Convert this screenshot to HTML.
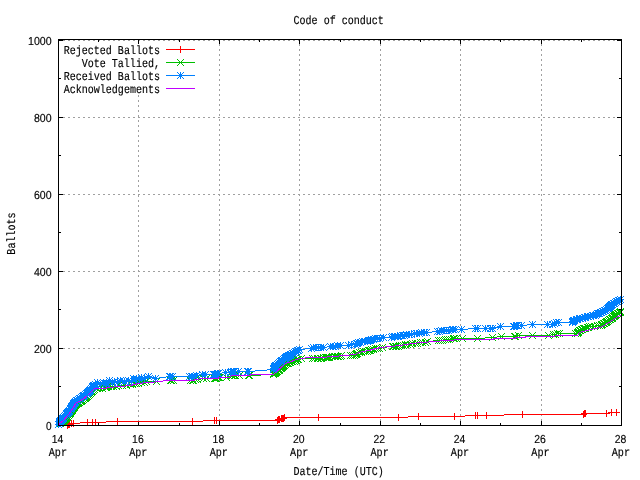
<!DOCTYPE html>
<html><head><meta charset="utf-8"><title>Code of conduct</title>
<style>html,body{margin:0;padding:0;background:#fff;overflow:hidden}body{width:640px;height:480px;position:relative}</style></head>
<body>
<svg width="640" height="480" viewBox="0 0 640 480" shape-rendering="crispEdges" style="position:absolute;left:0;top:0">
<rect width="640" height="480" fill="#fff"/>
<path fill="none" stroke="#a0a0a0" stroke-width="1" stroke-dasharray="2 3" d="M138.5 39V44M138.5 95V426M219.5 39V426M299.5 39V426M380.5 39V426M460.5 39V426M541.5 39V426M58 348.5H622M58 271.5H622M58 194.5H622M58 117.5H622M58 40.5H622"/>
<path fill="none" stroke="#000" stroke-width="1" d="M58.5 425v-4M58.5 40v4M98.5 425v-2M98.5 40v2M138.5 425v-4M138.5 40v4M179.5 425v-2M179.5 40v2M219.5 425v-4M219.5 40v4M259.5 425v-2M259.5 40v2M299.5 425v-4M299.5 40v4M340.5 425v-2M340.5 40v2M380.5 425v-4M380.5 40v4M420.5 425v-2M420.5 40v2M460.5 425v-4M460.5 40v4M500.5 425v-2M500.5 40v2M541.5 425v-4M541.5 40v4M581.5 425v-2M581.5 40v2M621.5 425v-4M621.5 40v4M59 425.5h4M621 425.5h-4M59 386.5h2M621 386.5h-2M59 348.5h4M621 348.5h-4M59 309.5h2M621 309.5h-2M59 271.5h4M621 271.5h-4M59 232.5h2M621 232.5h-2M59 194.5h4M621 194.5h-4M59 155.5h2M621 155.5h-2M59 117.5h4M621 117.5h-4M59 78.5h2M621 78.5h-2M59 40.5h4M621 40.5h-4"/>
<polyline fill="none" stroke="#ff0000" stroke-width="1" points="67.5,425.5 68.5,424.5 69.5,424.5 71.5,423.5 73.5,423.5 87.5,422.5 92.5,422.5 95.5,422.5 117.5,421.5 192.5,421.5 214.5,420.5 216.5,420.5 277.5,420.5 278.5,419.5 279.5,419.5 281.5,418.5 282.5,418.5 283.5,418.5 284.5,417.5 318.5,417.5 398.5,417.5 418.5,416.5 454.5,416.5 475.5,415.5 477.5,415.5 486.5,415.5 522.5,414.5 583.5,414.5 584.5,413.5 585.5,413.5 606.5,413.5 611.5,412.5 616.5,412.5"/>
<path fill="none" stroke="#ff0000" stroke-width="1" d="M64 425.5h7M67.5 422v7M65 424.5h7M68.5 421v7M66 424.5h7M69.5 421v7M68 423.5h7M71.5 420v7M70 423.5h7M73.5 420v7M84 422.5h7M87.5 419v7M89 422.5h7M92.5 419v7M92 422.5h7M95.5 419v7M114 421.5h7M117.5 418v7M189 421.5h7M192.5 418v7M211 420.5h7M214.5 417v7M213 420.5h7M216.5 417v7M274 420.5h7M277.5 417v7M275 419.5h7M278.5 416v7M276 419.5h7M279.5 416v7M278 418.5h7M281.5 415v7M279 418.5h7M282.5 415v7M280 418.5h7M283.5 415v7M281 417.5h7M284.5 414v7M315 417.5h7M318.5 414v7M395 417.5h7M398.5 414v7M415 416.5h7M418.5 413v7M451 416.5h7M454.5 413v7M472 415.5h7M475.5 412v7M474 415.5h7M477.5 412v7M483 415.5h7M486.5 412v7M519 414.5h7M522.5 411v7M580 414.5h7M583.5 411v7M581 413.5h7M584.5 410v7M582 413.5h7M585.5 410v7M603 413.5h7M606.5 410v7M608 412.5h7M611.5 409v7M613 412.5h7M616.5 409v7"/>
<polyline fill="none" stroke="#00c000" stroke-width="1" points="58.5,424.5 60.5,423.5 60.5,423.5 61.5,422.5 61.5,422.5 62.5,422.5 62.5,421.5 63.5,421.5 63.5,420.5 64.5,420.5 64.5,420.5 64.5,419.5 65.5,419.5 65.5,418.5 65.5,418.5 66.5,418.5 66.5,417.5 66.5,417.5 67.5,417.5 67.5,416.5 67.5,416.5 68.5,415.5 68.5,415.5 68.5,415.5 69.5,414.5 69.5,414.5 69.5,413.5 69.5,413.5 70.5,413.5 70.5,412.5 70.5,412.5 70.5,411.5 71.5,411.5 71.5,411.5 71.5,410.5 71.5,410.5 72.5,410.5 72.5,409.5 72.5,409.5 72.5,408.5 73.5,408.5 73.5,408.5 73.5,407.5 73.5,407.5 74.5,407.5 74.5,406.5 74.5,406.5 74.5,405.5 75.5,405.5 75.5,405.5 75.5,404.5 76.5,404.5 76.5,403.5 77.5,403.5 78.5,403.5 78.5,402.5 79.5,402.5 79.5,402.5 80.5,401.5 81.5,401.5 81.5,400.5 82.5,400.5 82.5,400.5 83.5,399.5 83.5,399.5 84.5,398.5 84.5,398.5 85.5,398.5 85.5,397.5 86.5,397.5 86.5,396.5 87.5,396.5 87.5,396.5 88.5,395.5 88.5,395.5 88.5,395.5 89.5,394.5 89.5,394.5 90.5,393.5 90.5,393.5 90.5,393.5 91.5,392.5 91.5,392.5 91.5,391.5 92.5,391.5 92.5,391.5 93.5,390.5 93.5,390.5 93.5,390.5 94.5,389.5 94.5,389.5 96.5,388.5 97.5,388.5 99.5,388.5 102.5,388.5 105.5,387.5 106.5,387.5 106.5,386.5 108.5,386.5 111.5,386.5 113.5,386.5 116.5,386.5 118.5,385.5 122.5,385.5 126.5,385.5 130.5,384.5 132.5,384.5 134.5,383.5 136.5,383.5 138.5,383.5 141.5,382.5 144.5,382.5 146.5,381.5 156.5,381.5 156.5,381.5 170.5,380.5 171.5,380.5 173.5,380.5 190.5,380.5 192.5,380.5 193.5,380.5 195.5,379.5 197.5,379.5 203.5,378.5 206.5,378.5 214.5,378.5 215.5,378.5 216.5,378.5 217.5,377.5 218.5,377.5 219.5,377.5 226.5,377.5 231.5,375.5 232.5,375.5 234.5,375.5 235.5,375.5 239.5,375.5 248.5,375.5 249.5,375.5 273.5,374.5 273.5,373.5 274.5,373.5 275.5,373.5 275.5,372.5 276.5,372.5 276.5,371.5 277.5,371.5 277.5,371.5 278.5,370.5 278.5,370.5 279.5,370.5 279.5,369.5 279.5,369.5 280.5,368.5 280.5,368.5 281.5,368.5 281.5,367.5 282.5,367.5 282.5,366.5 282.5,366.5 283.5,366.5 283.5,365.5 284.5,365.5 284.5,365.5 285.5,364.5 285.5,364.5 286.5,363.5 287.5,363.5 288.5,363.5 289.5,362.5 290.5,362.5 291.5,361.5 292.5,361.5 294.5,361.5 295.5,360.5 296.5,360.5 296.5,360.5 297.5,359.5 298.5,359.5 301.5,358.5 312.5,358.5 314.5,358.5 317.5,358.5 318.5,358.5 320.5,358.5 321.5,358.5 323.5,357.5 325.5,357.5 326.5,357.5 327.5,357.5 328.5,357.5 329.5,357.5 332.5,356.5 334.5,356.5 335.5,356.5 337.5,356.5 338.5,356.5 340.5,356.5 341.5,355.5 350.5,355.5 352.5,355.5 354.5,355.5 355.5,354.5 356.5,354.5 356.5,353.5 357.5,353.5 357.5,353.5 359.5,352.5 361.5,352.5 363.5,351.5 365.5,351.5 367.5,351.5 368.5,350.5 369.5,350.5 370.5,350.5 371.5,349.5 373.5,349.5 375.5,348.5 377.5,348.5 379.5,348.5 382.5,347.5 392.5,346.5 393.5,346.5 395.5,346.5 396.5,346.5 398.5,346.5 399.5,345.5 401.5,345.5 403.5,345.5 405.5,344.5 407.5,344.5 410.5,344.5 412.5,343.5 415.5,343.5 417.5,343.5 420.5,342.5 422.5,342.5 425.5,342.5 427.5,341.5 438.5,340.5 440.5,340.5 442.5,340.5 445.5,339.5 447.5,339.5 449.5,339.5 453.5,338.5 454.5,338.5 456.5,338.5 462.5,338.5 477.5,338.5 492.5,337.5 501.5,336.5 514.5,336.5 515.5,336.5 518.5,335.5 532.5,335.5 548.5,335.5 553.5,334.5 555.5,334.5 557.5,333.5 559.5,333.5 575.5,333.5 577.5,333.5 577.5,332.5 578.5,332.5 578.5,331.5 578.5,331.5 578.5,331.5 579.5,330.5 579.5,330.5 580.5,330.5 581.5,329.5 582.5,329.5 583.5,328.5 584.5,328.5 585.5,328.5 587.5,327.5 588.5,327.5 589.5,326.5 591.5,326.5 594.5,326.5 597.5,325.5 599.5,325.5 601.5,325.5 601.5,324.5 602.5,324.5 603.5,323.5 604.5,323.5 604.5,323.5 605.5,322.5 606.5,322.5 606.5,321.5 607.5,321.5 607.5,321.5 608.5,320.5 608.5,320.5 609.5,319.5 610.5,319.5 610.5,319.5 611.5,318.5 611.5,318.5 612.5,318.5 612.5,317.5 612.5,317.5 613.5,316.5 613.5,316.5 614.5,316.5 614.5,315.5 615.5,315.5 615.5,314.5 616.5,314.5 616.5,314.5 617.5,313.5 618.5,313.5 618.5,313.5 619.5,312.5 620.5,312.5 620.5,311.5"/>
<path fill="none" stroke="#00c000" stroke-width="1" stroke-linecap="butt" d="M55 421l7 7M55 428l7 -7M57 420l7 7M57 427l7 -7M57 420l7 7M57 427l7 -7M58 419l7 7M58 426l7 -7M58 419l7 7M58 426l7 -7M59 419l7 7M59 426l7 -7M59 418l7 7M59 425l7 -7M60 418l7 7M60 425l7 -7M60 417l7 7M60 424l7 -7M61 417l7 7M61 424l7 -7M61 417l7 7M61 424l7 -7M61 416l7 7M61 423l7 -7M62 416l7 7M62 423l7 -7M62 415l7 7M62 422l7 -7M62 415l7 7M62 422l7 -7M63 415l7 7M63 422l7 -7M63 414l7 7M63 421l7 -7M63 414l7 7M63 421l7 -7M64 414l7 7M64 421l7 -7M64 413l7 7M64 420l7 -7M64 413l7 7M64 420l7 -7M65 412l7 7M65 419l7 -7M65 412l7 7M65 419l7 -7M65 412l7 7M65 419l7 -7M66 411l7 7M66 418l7 -7M66 411l7 7M66 418l7 -7M66 410l7 7M66 417l7 -7M66 410l7 7M66 417l7 -7M67 410l7 7M67 417l7 -7M67 409l7 7M67 416l7 -7M67 409l7 7M67 416l7 -7M67 408l7 7M67 415l7 -7M68 408l7 7M68 415l7 -7M68 408l7 7M68 415l7 -7M68 407l7 7M68 414l7 -7M68 407l7 7M68 414l7 -7M69 407l7 7M69 414l7 -7M69 406l7 7M69 413l7 -7M69 406l7 7M69 413l7 -7M69 405l7 7M69 412l7 -7M70 405l7 7M70 412l7 -7M70 405l7 7M70 412l7 -7M70 404l7 7M70 411l7 -7M70 404l7 7M70 411l7 -7M71 404l7 7M71 411l7 -7M71 403l7 7M71 410l7 -7M71 403l7 7M71 410l7 -7M71 402l7 7M71 409l7 -7M72 402l7 7M72 409l7 -7M72 402l7 7M72 409l7 -7M72 401l7 7M72 408l7 -7M73 401l7 7M73 408l7 -7M73 400l7 7M73 407l7 -7M74 400l7 7M74 407l7 -7M75 400l7 7M75 407l7 -7M75 399l7 7M75 406l7 -7M76 399l7 7M76 406l7 -7M76 399l7 7M76 406l7 -7M77 398l7 7M77 405l7 -7M78 398l7 7M78 405l7 -7M78 397l7 7M78 404l7 -7M79 397l7 7M79 404l7 -7M79 397l7 7M79 404l7 -7M80 396l7 7M80 403l7 -7M80 396l7 7M80 403l7 -7M81 395l7 7M81 402l7 -7M81 395l7 7M81 402l7 -7M82 395l7 7M82 402l7 -7M82 394l7 7M82 401l7 -7M83 394l7 7M83 401l7 -7M83 393l7 7M83 400l7 -7M84 393l7 7M84 400l7 -7M84 393l7 7M84 400l7 -7M85 392l7 7M85 399l7 -7M85 392l7 7M85 399l7 -7M85 392l7 7M85 399l7 -7M86 391l7 7M86 398l7 -7M86 391l7 7M86 398l7 -7M87 390l7 7M87 397l7 -7M87 390l7 7M87 397l7 -7M87 390l7 7M87 397l7 -7M88 389l7 7M88 396l7 -7M88 389l7 7M88 396l7 -7M88 388l7 7M88 395l7 -7M89 388l7 7M89 395l7 -7M89 388l7 7M89 395l7 -7M90 387l7 7M90 394l7 -7M90 387l7 7M90 394l7 -7M90 387l7 7M90 394l7 -7M91 386l7 7M91 393l7 -7M91 386l7 7M91 393l7 -7M93 385l7 7M93 392l7 -7M94 385l7 7M94 392l7 -7M96 385l7 7M96 392l7 -7M99 385l7 7M99 392l7 -7M102 384l7 7M102 391l7 -7M103 384l7 7M103 391l7 -7M103 383l7 7M103 390l7 -7M105 383l7 7M105 390l7 -7M108 383l7 7M108 390l7 -7M110 383l7 7M110 390l7 -7M113 383l7 7M113 390l7 -7M115 382l7 7M115 389l7 -7M119 382l7 7M119 389l7 -7M123 382l7 7M123 389l7 -7M127 381l7 7M127 388l7 -7M129 381l7 7M129 388l7 -7M131 380l7 7M131 387l7 -7M133 380l7 7M133 387l7 -7M135 380l7 7M135 387l7 -7M138 379l7 7M138 386l7 -7M141 379l7 7M141 386l7 -7M143 378l7 7M143 385l7 -7M153 378l7 7M153 385l7 -7M153 378l7 7M153 385l7 -7M167 377l7 7M167 384l7 -7M168 377l7 7M168 384l7 -7M170 377l7 7M170 384l7 -7M187 377l7 7M187 384l7 -7M189 377l7 7M189 384l7 -7M190 377l7 7M190 384l7 -7M192 376l7 7M192 383l7 -7M194 376l7 7M194 383l7 -7M200 375l7 7M200 382l7 -7M203 375l7 7M203 382l7 -7M211 375l7 7M211 382l7 -7M212 375l7 7M212 382l7 -7M213 375l7 7M213 382l7 -7M214 374l7 7M214 381l7 -7M215 374l7 7M215 381l7 -7M216 374l7 7M216 381l7 -7M223 374l7 7M223 381l7 -7M228 372l7 7M228 379l7 -7M229 372l7 7M229 379l7 -7M231 372l7 7M231 379l7 -7M232 372l7 7M232 379l7 -7M236 372l7 7M236 379l7 -7M245 372l7 7M245 379l7 -7M246 372l7 7M246 379l7 -7M270 371l7 7M270 378l7 -7M270 370l7 7M270 377l7 -7M271 370l7 7M271 377l7 -7M272 370l7 7M272 377l7 -7M272 369l7 7M272 376l7 -7M273 369l7 7M273 376l7 -7M273 368l7 7M273 375l7 -7M274 368l7 7M274 375l7 -7M274 368l7 7M274 375l7 -7M275 367l7 7M275 374l7 -7M275 367l7 7M275 374l7 -7M276 367l7 7M276 374l7 -7M276 366l7 7M276 373l7 -7M276 366l7 7M276 373l7 -7M277 365l7 7M277 372l7 -7M277 365l7 7M277 372l7 -7M278 365l7 7M278 372l7 -7M278 364l7 7M278 371l7 -7M279 364l7 7M279 371l7 -7M279 363l7 7M279 370l7 -7M279 363l7 7M279 370l7 -7M280 363l7 7M280 370l7 -7M280 362l7 7M280 369l7 -7M281 362l7 7M281 369l7 -7M281 362l7 7M281 369l7 -7M282 361l7 7M282 368l7 -7M282 361l7 7M282 368l7 -7M283 360l7 7M283 367l7 -7M284 360l7 7M284 367l7 -7M285 360l7 7M285 367l7 -7M286 359l7 7M286 366l7 -7M287 359l7 7M287 366l7 -7M288 358l7 7M288 365l7 -7M289 358l7 7M289 365l7 -7M291 358l7 7M291 365l7 -7M292 357l7 7M292 364l7 -7M293 357l7 7M293 364l7 -7M293 357l7 7M293 364l7 -7M294 356l7 7M294 363l7 -7M295 356l7 7M295 363l7 -7M298 355l7 7M298 362l7 -7M309 355l7 7M309 362l7 -7M311 355l7 7M311 362l7 -7M314 355l7 7M314 362l7 -7M315 355l7 7M315 362l7 -7M317 355l7 7M317 362l7 -7M318 355l7 7M318 362l7 -7M320 354l7 7M320 361l7 -7M322 354l7 7M322 361l7 -7M323 354l7 7M323 361l7 -7M324 354l7 7M324 361l7 -7M325 354l7 7M325 361l7 -7M326 354l7 7M326 361l7 -7M329 353l7 7M329 360l7 -7M331 353l7 7M331 360l7 -7M332 353l7 7M332 360l7 -7M334 353l7 7M334 360l7 -7M335 353l7 7M335 360l7 -7M337 353l7 7M337 360l7 -7M338 352l7 7M338 359l7 -7M347 352l7 7M347 359l7 -7M349 352l7 7M349 359l7 -7M351 352l7 7M351 359l7 -7M352 351l7 7M352 358l7 -7M353 351l7 7M353 358l7 -7M353 350l7 7M353 357l7 -7M354 350l7 7M354 357l7 -7M354 350l7 7M354 357l7 -7M356 349l7 7M356 356l7 -7M358 349l7 7M358 356l7 -7M360 348l7 7M360 355l7 -7M362 348l7 7M362 355l7 -7M364 348l7 7M364 355l7 -7M365 347l7 7M365 354l7 -7M366 347l7 7M366 354l7 -7M367 347l7 7M367 354l7 -7M368 346l7 7M368 353l7 -7M370 346l7 7M370 353l7 -7M372 345l7 7M372 352l7 -7M374 345l7 7M374 352l7 -7M376 345l7 7M376 352l7 -7M379 344l7 7M379 351l7 -7M389 343l7 7M389 350l7 -7M390 343l7 7M390 350l7 -7M392 343l7 7M392 350l7 -7M393 343l7 7M393 350l7 -7M395 343l7 7M395 350l7 -7M396 342l7 7M396 349l7 -7M398 342l7 7M398 349l7 -7M400 342l7 7M400 349l7 -7M402 341l7 7M402 348l7 -7M404 341l7 7M404 348l7 -7M407 341l7 7M407 348l7 -7M409 340l7 7M409 347l7 -7M412 340l7 7M412 347l7 -7M414 340l7 7M414 347l7 -7M417 339l7 7M417 346l7 -7M419 339l7 7M419 346l7 -7M422 339l7 7M422 346l7 -7M424 338l7 7M424 345l7 -7M435 337l7 7M435 344l7 -7M437 337l7 7M437 344l7 -7M439 337l7 7M439 344l7 -7M442 336l7 7M442 343l7 -7M444 336l7 7M444 343l7 -7M446 336l7 7M446 343l7 -7M450 335l7 7M450 342l7 -7M451 335l7 7M451 342l7 -7M453 335l7 7M453 342l7 -7M459 335l7 7M459 342l7 -7M474 335l7 7M474 342l7 -7M489 334l7 7M489 341l7 -7M498 333l7 7M498 340l7 -7M511 333l7 7M511 340l7 -7M512 333l7 7M512 340l7 -7M515 332l7 7M515 339l7 -7M529 332l7 7M529 339l7 -7M545 332l7 7M545 339l7 -7M550 331l7 7M550 338l7 -7M552 331l7 7M552 338l7 -7M554 330l7 7M554 337l7 -7M556 330l7 7M556 337l7 -7M572 330l7 7M572 337l7 -7M574 330l7 7M574 337l7 -7M574 329l7 7M574 336l7 -7M575 329l7 7M575 336l7 -7M575 328l7 7M575 335l7 -7M575 328l7 7M575 335l7 -7M575 328l7 7M575 335l7 -7M576 327l7 7M576 334l7 -7M576 327l7 7M576 334l7 -7M577 327l7 7M577 334l7 -7M578 326l7 7M578 333l7 -7M579 326l7 7M579 333l7 -7M580 325l7 7M580 332l7 -7M581 325l7 7M581 332l7 -7M582 325l7 7M582 332l7 -7M584 324l7 7M584 331l7 -7M585 324l7 7M585 331l7 -7M586 323l7 7M586 330l7 -7M588 323l7 7M588 330l7 -7M591 323l7 7M591 330l7 -7M594 322l7 7M594 329l7 -7M596 322l7 7M596 329l7 -7M598 322l7 7M598 329l7 -7M598 321l7 7M598 328l7 -7M599 321l7 7M599 328l7 -7M600 320l7 7M600 327l7 -7M601 320l7 7M601 327l7 -7M601 320l7 7M601 327l7 -7M602 319l7 7M602 326l7 -7M603 319l7 7M603 326l7 -7M603 318l7 7M603 325l7 -7M604 318l7 7M604 325l7 -7M604 318l7 7M604 325l7 -7M605 317l7 7M605 324l7 -7M605 317l7 7M605 324l7 -7M606 316l7 7M606 323l7 -7M607 316l7 7M607 323l7 -7M607 316l7 7M607 323l7 -7M608 315l7 7M608 322l7 -7M608 315l7 7M608 322l7 -7M609 315l7 7M609 322l7 -7M609 314l7 7M609 321l7 -7M609 314l7 7M609 321l7 -7M610 313l7 7M610 320l7 -7M610 313l7 7M610 320l7 -7M611 313l7 7M611 320l7 -7M611 312l7 7M611 319l7 -7M612 312l7 7M612 319l7 -7M612 311l7 7M612 318l7 -7M613 311l7 7M613 318l7 -7M613 311l7 7M613 318l7 -7M614 310l7 7M614 317l7 -7M615 310l7 7M615 317l7 -7M615 310l7 7M615 317l7 -7M616 309l7 7M616 316l7 -7M617 309l7 7M617 316l7 -7M617 308l7 7M617 315l7 -7"/>
<polyline fill="none" stroke="#0080ff" stroke-width="1" points="58.5,424.5 59.5,423.5 59.5,423.5 59.5,422.5 59.5,422.5 59.5,421.5 60.5,421.5 60.5,421.5 60.5,420.5 60.5,420.5 61.5,420.5 61.5,419.5 62.5,419.5 62.5,418.5 62.5,418.5 63.5,418.5 63.5,417.5 63.5,417.5 64.5,416.5 64.5,416.5 64.5,416.5 65.5,415.5 65.5,415.5 65.5,415.5 66.5,414.5 66.5,414.5 66.5,413.5 67.5,413.5 67.5,413.5 67.5,412.5 68.5,412.5 68.5,412.5 68.5,411.5 69.5,411.5 69.5,410.5 69.5,410.5 69.5,410.5 70.5,409.5 70.5,409.5 70.5,408.5 70.5,408.5 71.5,408.5 71.5,407.5 71.5,407.5 71.5,406.5 72.5,406.5 72.5,406.5 72.5,405.5 72.5,405.5 73.5,405.5 73.5,404.5 73.5,404.5 73.5,403.5 74.5,403.5 74.5,403.5 74.5,402.5 74.5,402.5 75.5,402.5 75.5,401.5 75.5,401.5 76.5,400.5 76.5,400.5 77.5,400.5 78.5,399.5 78.5,399.5 79.5,398.5 79.5,398.5 80.5,398.5 81.5,397.5 81.5,397.5 82.5,396.5 82.5,396.5 83.5,396.5 83.5,395.5 84.5,395.5 84.5,395.5 85.5,394.5 85.5,394.5 86.5,393.5 86.5,393.5 87.5,393.5 87.5,392.5 88.5,392.5 88.5,391.5 88.5,391.5 89.5,391.5 89.5,390.5 90.5,390.5 90.5,390.5 90.5,389.5 90.5,389.5 91.5,388.5 91.5,388.5 91.5,388.5 92.5,387.5 92.5,387.5 92.5,386.5 93.5,386.5 93.5,386.5 93.5,385.5 93.5,385.5 94.5,385.5 95.5,384.5 97.5,382.5 100.5,384.5 103.5,382.5 105.5,383.5 106.5,382.5 106.5,383.5 109.5,380.5 112.5,382.5 114.5,381.5 117.5,382.5 120.5,380.5 124.5,381.5 128.5,380.5 131.5,381.5 133.5,378.5 135.5,379.5 136.5,378.5 139.5,379.5 141.5,377.5 144.5,378.5 148.5,376.5 155.5,378.5 155.5,378.5 169.5,376.5 170.5,376.5 172.5,376.5 189.5,376.5 191.5,376.5 192.5,376.5 194.5,376.5 196.5,375.5 202.5,374.5 205.5,374.5 213.5,374.5 214.5,374.5 215.5,374.5 216.5,374.5 217.5,373.5 218.5,373.5 225.5,372.5 230.5,372.5 231.5,371.5 233.5,371.5 234.5,371.5 238.5,371.5 247.5,371.5 248.5,371.5 273.5,369.5 273.5,368.5 273.5,368.5 274.5,368.5 274.5,367.5 274.5,367.5 274.5,366.5 275.5,366.5 275.5,366.5 275.5,365.5 276.5,365.5 276.5,365.5 277.5,364.5 277.5,364.5 278.5,363.5 278.5,363.5 278.5,363.5 279.5,362.5 279.5,362.5 280.5,361.5 280.5,361.5 281.5,361.5 281.5,360.5 282.5,360.5 282.5,360.5 283.5,359.5 283.5,359.5 284.5,358.5 284.5,358.5 285.5,358.5 285.5,357.5 286.5,357.5 286.5,356.5 287.5,356.5 288.5,356.5 288.5,355.5 289.5,355.5 290.5,355.5 290.5,354.5 291.5,354.5 292.5,353.5 292.5,353.5 293.5,353.5 294.5,352.5 294.5,352.5 295.5,351.5 296.5,351.5 296.5,351.5 297.5,350.5 298.5,350.5 298.5,350.5 299.5,349.5 311.5,348.5 313.5,347.5 316.5,347.5 318.5,347.5 320.5,347.5 323.5,347.5 330.5,346.5 333.5,346.5 335.5,346.5 337.5,345.5 340.5,345.5 348.5,345.5 351.5,344.5 355.5,344.5 355.5,344.5 356.5,343.5 356.5,343.5 357.5,343.5 358.5,342.5 360.5,342.5 362.5,341.5 364.5,341.5 367.5,341.5 368.5,340.5 369.5,340.5 370.5,340.5 371.5,339.5 373.5,339.5 375.5,338.5 377.5,338.5 379.5,338.5 383.5,337.5 391.5,337.5 392.5,336.5 394.5,336.5 395.5,336.5 397.5,336.5 398.5,336.5 400.5,335.5 402.5,335.5 404.5,335.5 406.5,334.5 409.5,334.5 411.5,334.5 414.5,333.5 416.5,333.5 419.5,333.5 421.5,332.5 424.5,332.5 426.5,332.5 437.5,331.5 439.5,331.5 441.5,330.5 444.5,330.5 446.5,330.5 448.5,330.5 452.5,329.5 453.5,329.5 455.5,329.5 461.5,329.5 475.5,328.5 477.5,328.5 485.5,328.5 490.5,328.5 492.5,328.5 500.5,326.5 513.5,326.5 514.5,326.5 516.5,325.5 517.5,325.5 521.5,325.5 532.5,324.5 547.5,324.5 552.5,324.5 554.5,323.5 556.5,322.5 558.5,322.5 572.5,322.5 572.5,322.5 572.5,321.5 573.5,321.5 573.5,321.5 573.5,320.5 574.5,320.5 574.5,320.5 576.5,319.5 577.5,319.5 579.5,318.5 580.5,318.5 582.5,318.5 584.5,317.5 585.5,317.5 587.5,316.5 588.5,316.5 590.5,316.5 592.5,315.5 593.5,315.5 595.5,315.5 596.5,314.5 596.5,314.5 597.5,313.5 598.5,313.5 599.5,313.5 600.5,312.5 601.5,312.5 602.5,311.5 602.5,311.5 603.5,311.5 604.5,310.5 605.5,310.5 606.5,309.5 606.5,309.5 606.5,309.5 607.5,308.5 607.5,308.5 608.5,308.5 608.5,307.5 609.5,307.5 609.5,306.5 609.5,306.5 610.5,306.5 610.5,305.5 611.5,305.5 611.5,304.5 612.5,304.5 612.5,304.5 613.5,303.5 613.5,303.5 614.5,303.5 615.5,302.5 615.5,302.5 616.5,301.5 616.5,301.5 617.5,301.5 618.5,300.5 619.5,300.5 620.5,299.5 620.5,299.5"/>
<path fill="none" stroke="#0080ff" stroke-width="1" d="M55 424.5h7M58.5 421v7M56 423.5h7M59.5 420v7M56 423.5h7M59.5 420v7M56 422.5h7M59.5 419v7M56 422.5h7M59.5 419v7M56 421.5h7M59.5 418v7M57 421.5h7M60.5 418v7M57 421.5h7M60.5 418v7M57 420.5h7M60.5 417v7M57 420.5h7M60.5 417v7M58 420.5h7M61.5 417v7M58 419.5h7M61.5 416v7M59 419.5h7M62.5 416v7M59 418.5h7M62.5 415v7M59 418.5h7M62.5 415v7M60 418.5h7M63.5 415v7M60 417.5h7M63.5 414v7M60 417.5h7M63.5 414v7M61 416.5h7M64.5 413v7M61 416.5h7M64.5 413v7M61 416.5h7M64.5 413v7M62 415.5h7M65.5 412v7M62 415.5h7M65.5 412v7M62 415.5h7M65.5 412v7M63 414.5h7M66.5 411v7M63 414.5h7M66.5 411v7M63 413.5h7M66.5 410v7M64 413.5h7M67.5 410v7M64 413.5h7M67.5 410v7M64 412.5h7M67.5 409v7M65 412.5h7M68.5 409v7M65 412.5h7M68.5 409v7M65 411.5h7M68.5 408v7M66 411.5h7M69.5 408v7M66 410.5h7M69.5 407v7M66 410.5h7M69.5 407v7M66 410.5h7M69.5 407v7M67 409.5h7M70.5 406v7M67 409.5h7M70.5 406v7M67 408.5h7M70.5 405v7M67 408.5h7M70.5 405v7M68 408.5h7M71.5 405v7M68 407.5h7M71.5 404v7M68 407.5h7M71.5 404v7M68 406.5h7M71.5 403v7M69 406.5h7M72.5 403v7M69 406.5h7M72.5 403v7M69 405.5h7M72.5 402v7M69 405.5h7M72.5 402v7M70 405.5h7M73.5 402v7M70 404.5h7M73.5 401v7M70 404.5h7M73.5 401v7M70 403.5h7M73.5 400v7M71 403.5h7M74.5 400v7M71 403.5h7M74.5 400v7M71 402.5h7M74.5 399v7M71 402.5h7M74.5 399v7M72 402.5h7M75.5 399v7M72 401.5h7M75.5 398v7M72 401.5h7M75.5 398v7M73 400.5h7M76.5 397v7M73 400.5h7M76.5 397v7M74 400.5h7M77.5 397v7M75 399.5h7M78.5 396v7M75 399.5h7M78.5 396v7M76 398.5h7M79.5 395v7M76 398.5h7M79.5 395v7M77 398.5h7M80.5 395v7M78 397.5h7M81.5 394v7M78 397.5h7M81.5 394v7M79 396.5h7M82.5 393v7M79 396.5h7M82.5 393v7M80 396.5h7M83.5 393v7M80 395.5h7M83.5 392v7M81 395.5h7M84.5 392v7M81 395.5h7M84.5 392v7M82 394.5h7M85.5 391v7M82 394.5h7M85.5 391v7M83 393.5h7M86.5 390v7M83 393.5h7M86.5 390v7M84 393.5h7M87.5 390v7M84 392.5h7M87.5 389v7M85 392.5h7M88.5 389v7M85 391.5h7M88.5 388v7M85 391.5h7M88.5 388v7M86 391.5h7M89.5 388v7M86 390.5h7M89.5 387v7M87 390.5h7M90.5 387v7M87 390.5h7M90.5 387v7M87 389.5h7M90.5 386v7M87 389.5h7M90.5 386v7M88 388.5h7M91.5 385v7M88 388.5h7M91.5 385v7M88 388.5h7M91.5 385v7M89 387.5h7M92.5 384v7M89 387.5h7M92.5 384v7M89 386.5h7M92.5 383v7M90 386.5h7M93.5 383v7M90 386.5h7M93.5 383v7M90 385.5h7M93.5 382v7M90 385.5h7M93.5 382v7M91 385.5h7M94.5 382v7M92 384.5h7M95.5 381v7M94 382.5h7M97.5 379v7M97 384.5h7M100.5 381v7M100 382.5h7M103.5 379v7M102 383.5h7M105.5 380v7M103 382.5h7M106.5 379v7M103 383.5h7M106.5 380v7M106 380.5h7M109.5 377v7M109 382.5h7M112.5 379v7M111 381.5h7M114.5 378v7M114 382.5h7M117.5 379v7M117 380.5h7M120.5 377v7M121 381.5h7M124.5 378v7M125 380.5h7M128.5 377v7M128 381.5h7M131.5 378v7M130 378.5h7M133.5 375v7M132 379.5h7M135.5 376v7M133 378.5h7M136.5 375v7M136 379.5h7M139.5 376v7M138 377.5h7M141.5 374v7M141 378.5h7M144.5 375v7M145 376.5h7M148.5 373v7M152 378.5h7M155.5 375v7M152 378.5h7M155.5 375v7M166 376.5h7M169.5 373v7M167 376.5h7M170.5 373v7M169 376.5h7M172.5 373v7M186 376.5h7M189.5 373v7M188 376.5h7M191.5 373v7M189 376.5h7M192.5 373v7M191 376.5h7M194.5 373v7M193 375.5h7M196.5 372v7M199 374.5h7M202.5 371v7M202 374.5h7M205.5 371v7M210 374.5h7M213.5 371v7M211 374.5h7M214.5 371v7M212 374.5h7M215.5 371v7M213 374.5h7M216.5 371v7M214 373.5h7M217.5 370v7M215 373.5h7M218.5 370v7M222 372.5h7M225.5 369v7M227 372.5h7M230.5 369v7M228 371.5h7M231.5 368v7M230 371.5h7M233.5 368v7M231 371.5h7M234.5 368v7M235 371.5h7M238.5 368v7M244 371.5h7M247.5 368v7M245 371.5h7M248.5 368v7M270 369.5h7M273.5 366v7M270 368.5h7M273.5 365v7M270 368.5h7M273.5 365v7M271 368.5h7M274.5 365v7M271 367.5h7M274.5 364v7M271 367.5h7M274.5 364v7M271 366.5h7M274.5 363v7M272 366.5h7M275.5 363v7M272 366.5h7M275.5 363v7M272 365.5h7M275.5 362v7M273 365.5h7M276.5 362v7M273 365.5h7M276.5 362v7M274 364.5h7M277.5 361v7M274 364.5h7M277.5 361v7M275 363.5h7M278.5 360v7M275 363.5h7M278.5 360v7M275 363.5h7M278.5 360v7M276 362.5h7M279.5 359v7M276 362.5h7M279.5 359v7M277 361.5h7M280.5 358v7M277 361.5h7M280.5 358v7M278 361.5h7M281.5 358v7M278 360.5h7M281.5 357v7M279 360.5h7M282.5 357v7M279 360.5h7M282.5 357v7M280 359.5h7M283.5 356v7M280 359.5h7M283.5 356v7M281 358.5h7M284.5 355v7M281 358.5h7M284.5 355v7M282 358.5h7M285.5 355v7M282 357.5h7M285.5 354v7M283 357.5h7M286.5 354v7M283 356.5h7M286.5 353v7M284 356.5h7M287.5 353v7M285 356.5h7M288.5 353v7M285 355.5h7M288.5 352v7M286 355.5h7M289.5 352v7M287 355.5h7M290.5 352v7M287 354.5h7M290.5 351v7M288 354.5h7M291.5 351v7M289 353.5h7M292.5 350v7M289 353.5h7M292.5 350v7M290 353.5h7M293.5 350v7M291 352.5h7M294.5 349v7M291 352.5h7M294.5 349v7M292 351.5h7M295.5 348v7M293 351.5h7M296.5 348v7M293 351.5h7M296.5 348v7M294 350.5h7M297.5 347v7M295 350.5h7M298.5 347v7M295 350.5h7M298.5 347v7M296 349.5h7M299.5 346v7M308 348.5h7M311.5 345v7M310 347.5h7M313.5 344v7M313 347.5h7M316.5 344v7M315 347.5h7M318.5 344v7M317 347.5h7M320.5 344v7M320 347.5h7M323.5 344v7M327 346.5h7M330.5 343v7M330 346.5h7M333.5 343v7M332 346.5h7M335.5 343v7M334 345.5h7M337.5 342v7M337 345.5h7M340.5 342v7M345 345.5h7M348.5 342v7M348 344.5h7M351.5 341v7M352 344.5h7M355.5 341v7M352 344.5h7M355.5 341v7M353 343.5h7M356.5 340v7M353 343.5h7M356.5 340v7M354 343.5h7M357.5 340v7M355 342.5h7M358.5 339v7M357 342.5h7M360.5 339v7M359 341.5h7M362.5 338v7M361 341.5h7M364.5 338v7M364 341.5h7M367.5 338v7M365 340.5h7M368.5 337v7M366 340.5h7M369.5 337v7M367 340.5h7M370.5 337v7M368 339.5h7M371.5 336v7M370 339.5h7M373.5 336v7M372 338.5h7M375.5 335v7M374 338.5h7M377.5 335v7M376 338.5h7M379.5 335v7M380 337.5h7M383.5 334v7M388 337.5h7M391.5 334v7M389 336.5h7M392.5 333v7M391 336.5h7M394.5 333v7M392 336.5h7M395.5 333v7M394 336.5h7M397.5 333v7M395 336.5h7M398.5 333v7M397 335.5h7M400.5 332v7M399 335.5h7M402.5 332v7M401 335.5h7M404.5 332v7M403 334.5h7M406.5 331v7M406 334.5h7M409.5 331v7M408 334.5h7M411.5 331v7M411 333.5h7M414.5 330v7M413 333.5h7M416.5 330v7M416 333.5h7M419.5 330v7M418 332.5h7M421.5 329v7M421 332.5h7M424.5 329v7M423 332.5h7M426.5 329v7M434 331.5h7M437.5 328v7M436 331.5h7M439.5 328v7M438 330.5h7M441.5 327v7M441 330.5h7M444.5 327v7M443 330.5h7M446.5 327v7M445 330.5h7M448.5 327v7M449 329.5h7M452.5 326v7M450 329.5h7M453.5 326v7M452 329.5h7M455.5 326v7M458 329.5h7M461.5 326v7M472 328.5h7M475.5 325v7M474 328.5h7M477.5 325v7M482 328.5h7M485.5 325v7M487 328.5h7M490.5 325v7M489 328.5h7M492.5 325v7M497 326.5h7M500.5 323v7M510 326.5h7M513.5 323v7M511 326.5h7M514.5 323v7M513 325.5h7M516.5 322v7M514 325.5h7M517.5 322v7M518 325.5h7M521.5 322v7M529 324.5h7M532.5 321v7M544 324.5h7M547.5 321v7M549 324.5h7M552.5 321v7M551 323.5h7M554.5 320v7M553 322.5h7M556.5 319v7M555 322.5h7M558.5 319v7M569 322.5h7M572.5 319v7M569 322.5h7M572.5 319v7M569 321.5h7M572.5 318v7M570 321.5h7M573.5 318v7M570 321.5h7M573.5 318v7M570 320.5h7M573.5 317v7M571 320.5h7M574.5 317v7M571 320.5h7M574.5 317v7M573 319.5h7M576.5 316v7M574 319.5h7M577.5 316v7M576 318.5h7M579.5 315v7M577 318.5h7M580.5 315v7M579 318.5h7M582.5 315v7M581 317.5h7M584.5 314v7M582 317.5h7M585.5 314v7M584 316.5h7M587.5 313v7M585 316.5h7M588.5 313v7M587 316.5h7M590.5 313v7M589 315.5h7M592.5 312v7M590 315.5h7M593.5 312v7M592 315.5h7M595.5 312v7M593 314.5h7M596.5 311v7M593 314.5h7M596.5 311v7M594 313.5h7M597.5 310v7M595 313.5h7M598.5 310v7M596 313.5h7M599.5 310v7M597 312.5h7M600.5 309v7M598 312.5h7M601.5 309v7M599 311.5h7M602.5 308v7M599 311.5h7M602.5 308v7M600 311.5h7M603.5 308v7M601 310.5h7M604.5 307v7M602 310.5h7M605.5 307v7M603 309.5h7M606.5 306v7M603 309.5h7M606.5 306v7M603 309.5h7M606.5 306v7M604 308.5h7M607.5 305v7M604 308.5h7M607.5 305v7M605 308.5h7M608.5 305v7M605 307.5h7M608.5 304v7M606 307.5h7M609.5 304v7M606 306.5h7M609.5 303v7M606 306.5h7M609.5 303v7M607 306.5h7M610.5 303v7M607 305.5h7M610.5 302v7M608 305.5h7M611.5 302v7M608 304.5h7M611.5 301v7M609 304.5h7M612.5 301v7M609 304.5h7M612.5 301v7M610 303.5h7M613.5 300v7M610 303.5h7M613.5 300v7M611 303.5h7M614.5 300v7M612 302.5h7M615.5 299v7M612 302.5h7M615.5 299v7M613 301.5h7M616.5 298v7M613 301.5h7M616.5 298v7M614 301.5h7M617.5 298v7M615 300.5h7M618.5 297v7M616 300.5h7M619.5 297v7M617 299.5h7M620.5 296v7M617 299.5h7M620.5 296v7"/>
<path fill="none" stroke="#0080ff" stroke-width="1" stroke-linecap="butt" d="M55 421l7 7M55 428l7 -7M56 420l7 7M56 427l7 -7M56 420l7 7M56 427l7 -7M56 419l7 7M56 426l7 -7M56 419l7 7M56 426l7 -7M56 418l7 7M56 425l7 -7M57 418l7 7M57 425l7 -7M57 418l7 7M57 425l7 -7M57 417l7 7M57 424l7 -7M57 417l7 7M57 424l7 -7M58 417l7 7M58 424l7 -7M58 416l7 7M58 423l7 -7M59 416l7 7M59 423l7 -7M59 415l7 7M59 422l7 -7M59 415l7 7M59 422l7 -7M60 415l7 7M60 422l7 -7M60 414l7 7M60 421l7 -7M60 414l7 7M60 421l7 -7M61 413l7 7M61 420l7 -7M61 413l7 7M61 420l7 -7M61 413l7 7M61 420l7 -7M62 412l7 7M62 419l7 -7M62 412l7 7M62 419l7 -7M62 412l7 7M62 419l7 -7M63 411l7 7M63 418l7 -7M63 411l7 7M63 418l7 -7M63 410l7 7M63 417l7 -7M64 410l7 7M64 417l7 -7M64 410l7 7M64 417l7 -7M64 409l7 7M64 416l7 -7M65 409l7 7M65 416l7 -7M65 409l7 7M65 416l7 -7M65 408l7 7M65 415l7 -7M66 408l7 7M66 415l7 -7M66 407l7 7M66 414l7 -7M66 407l7 7M66 414l7 -7M66 407l7 7M66 414l7 -7M67 406l7 7M67 413l7 -7M67 406l7 7M67 413l7 -7M67 405l7 7M67 412l7 -7M67 405l7 7M67 412l7 -7M68 405l7 7M68 412l7 -7M68 404l7 7M68 411l7 -7M68 404l7 7M68 411l7 -7M68 403l7 7M68 410l7 -7M69 403l7 7M69 410l7 -7M69 403l7 7M69 410l7 -7M69 402l7 7M69 409l7 -7M69 402l7 7M69 409l7 -7M70 402l7 7M70 409l7 -7M70 401l7 7M70 408l7 -7M70 401l7 7M70 408l7 -7M70 400l7 7M70 407l7 -7M71 400l7 7M71 407l7 -7M71 400l7 7M71 407l7 -7M71 399l7 7M71 406l7 -7M71 399l7 7M71 406l7 -7M72 399l7 7M72 406l7 -7M72 398l7 7M72 405l7 -7M72 398l7 7M72 405l7 -7M73 397l7 7M73 404l7 -7M73 397l7 7M73 404l7 -7M74 397l7 7M74 404l7 -7M75 396l7 7M75 403l7 -7M75 396l7 7M75 403l7 -7M76 395l7 7M76 402l7 -7M76 395l7 7M76 402l7 -7M77 395l7 7M77 402l7 -7M78 394l7 7M78 401l7 -7M78 394l7 7M78 401l7 -7M79 393l7 7M79 400l7 -7M79 393l7 7M79 400l7 -7M80 393l7 7M80 400l7 -7M80 392l7 7M80 399l7 -7M81 392l7 7M81 399l7 -7M81 392l7 7M81 399l7 -7M82 391l7 7M82 398l7 -7M82 391l7 7M82 398l7 -7M83 390l7 7M83 397l7 -7M83 390l7 7M83 397l7 -7M84 390l7 7M84 397l7 -7M84 389l7 7M84 396l7 -7M85 389l7 7M85 396l7 -7M85 388l7 7M85 395l7 -7M85 388l7 7M85 395l7 -7M86 388l7 7M86 395l7 -7M86 387l7 7M86 394l7 -7M87 387l7 7M87 394l7 -7M87 387l7 7M87 394l7 -7M87 386l7 7M87 393l7 -7M87 386l7 7M87 393l7 -7M88 385l7 7M88 392l7 -7M88 385l7 7M88 392l7 -7M88 385l7 7M88 392l7 -7M89 384l7 7M89 391l7 -7M89 384l7 7M89 391l7 -7M89 383l7 7M89 390l7 -7M90 383l7 7M90 390l7 -7M90 383l7 7M90 390l7 -7M90 382l7 7M90 389l7 -7M90 382l7 7M90 389l7 -7M91 382l7 7M91 389l7 -7M92 381l7 7M92 388l7 -7M94 379l7 7M94 386l7 -7M97 381l7 7M97 388l7 -7M100 379l7 7M100 386l7 -7M102 380l7 7M102 387l7 -7M103 379l7 7M103 386l7 -7M103 380l7 7M103 387l7 -7M106 377l7 7M106 384l7 -7M109 379l7 7M109 386l7 -7M111 378l7 7M111 385l7 -7M114 379l7 7M114 386l7 -7M117 377l7 7M117 384l7 -7M121 378l7 7M121 385l7 -7M125 377l7 7M125 384l7 -7M128 378l7 7M128 385l7 -7M130 375l7 7M130 382l7 -7M132 376l7 7M132 383l7 -7M133 375l7 7M133 382l7 -7M136 376l7 7M136 383l7 -7M138 374l7 7M138 381l7 -7M141 375l7 7M141 382l7 -7M145 373l7 7M145 380l7 -7M152 375l7 7M152 382l7 -7M152 375l7 7M152 382l7 -7M166 373l7 7M166 380l7 -7M167 373l7 7M167 380l7 -7M169 373l7 7M169 380l7 -7M186 373l7 7M186 380l7 -7M188 373l7 7M188 380l7 -7M189 373l7 7M189 380l7 -7M191 373l7 7M191 380l7 -7M193 372l7 7M193 379l7 -7M199 371l7 7M199 378l7 -7M202 371l7 7M202 378l7 -7M210 371l7 7M210 378l7 -7M211 371l7 7M211 378l7 -7M212 371l7 7M212 378l7 -7M213 371l7 7M213 378l7 -7M214 370l7 7M214 377l7 -7M215 370l7 7M215 377l7 -7M222 369l7 7M222 376l7 -7M227 369l7 7M227 376l7 -7M228 368l7 7M228 375l7 -7M230 368l7 7M230 375l7 -7M231 368l7 7M231 375l7 -7M235 368l7 7M235 375l7 -7M244 368l7 7M244 375l7 -7M245 368l7 7M245 375l7 -7M270 366l7 7M270 373l7 -7M270 365l7 7M270 372l7 -7M270 365l7 7M270 372l7 -7M271 365l7 7M271 372l7 -7M271 364l7 7M271 371l7 -7M271 364l7 7M271 371l7 -7M271 363l7 7M271 370l7 -7M272 363l7 7M272 370l7 -7M272 363l7 7M272 370l7 -7M272 362l7 7M272 369l7 -7M273 362l7 7M273 369l7 -7M273 362l7 7M273 369l7 -7M274 361l7 7M274 368l7 -7M274 361l7 7M274 368l7 -7M275 360l7 7M275 367l7 -7M275 360l7 7M275 367l7 -7M275 360l7 7M275 367l7 -7M276 359l7 7M276 366l7 -7M276 359l7 7M276 366l7 -7M277 358l7 7M277 365l7 -7M277 358l7 7M277 365l7 -7M278 358l7 7M278 365l7 -7M278 357l7 7M278 364l7 -7M279 357l7 7M279 364l7 -7M279 357l7 7M279 364l7 -7M280 356l7 7M280 363l7 -7M280 356l7 7M280 363l7 -7M281 355l7 7M281 362l7 -7M281 355l7 7M281 362l7 -7M282 355l7 7M282 362l7 -7M282 354l7 7M282 361l7 -7M283 354l7 7M283 361l7 -7M283 353l7 7M283 360l7 -7M284 353l7 7M284 360l7 -7M285 353l7 7M285 360l7 -7M285 352l7 7M285 359l7 -7M286 352l7 7M286 359l7 -7M287 352l7 7M287 359l7 -7M287 351l7 7M287 358l7 -7M288 351l7 7M288 358l7 -7M289 350l7 7M289 357l7 -7M289 350l7 7M289 357l7 -7M290 350l7 7M290 357l7 -7M291 349l7 7M291 356l7 -7M291 349l7 7M291 356l7 -7M292 348l7 7M292 355l7 -7M293 348l7 7M293 355l7 -7M293 348l7 7M293 355l7 -7M294 347l7 7M294 354l7 -7M295 347l7 7M295 354l7 -7M295 347l7 7M295 354l7 -7M296 346l7 7M296 353l7 -7M308 345l7 7M308 352l7 -7M310 344l7 7M310 351l7 -7M313 344l7 7M313 351l7 -7M315 344l7 7M315 351l7 -7M317 344l7 7M317 351l7 -7M320 344l7 7M320 351l7 -7M327 343l7 7M327 350l7 -7M330 343l7 7M330 350l7 -7M332 343l7 7M332 350l7 -7M334 342l7 7M334 349l7 -7M337 342l7 7M337 349l7 -7M345 342l7 7M345 349l7 -7M348 341l7 7M348 348l7 -7M352 341l7 7M352 348l7 -7M352 341l7 7M352 348l7 -7M353 340l7 7M353 347l7 -7M353 340l7 7M353 347l7 -7M354 340l7 7M354 347l7 -7M355 339l7 7M355 346l7 -7M357 339l7 7M357 346l7 -7M359 338l7 7M359 345l7 -7M361 338l7 7M361 345l7 -7M364 338l7 7M364 345l7 -7M365 337l7 7M365 344l7 -7M366 337l7 7M366 344l7 -7M367 337l7 7M367 344l7 -7M368 336l7 7M368 343l7 -7M370 336l7 7M370 343l7 -7M372 335l7 7M372 342l7 -7M374 335l7 7M374 342l7 -7M376 335l7 7M376 342l7 -7M380 334l7 7M380 341l7 -7M388 334l7 7M388 341l7 -7M389 333l7 7M389 340l7 -7M391 333l7 7M391 340l7 -7M392 333l7 7M392 340l7 -7M394 333l7 7M394 340l7 -7M395 333l7 7M395 340l7 -7M397 332l7 7M397 339l7 -7M399 332l7 7M399 339l7 -7M401 332l7 7M401 339l7 -7M403 331l7 7M403 338l7 -7M406 331l7 7M406 338l7 -7M408 331l7 7M408 338l7 -7M411 330l7 7M411 337l7 -7M413 330l7 7M413 337l7 -7M416 330l7 7M416 337l7 -7M418 329l7 7M418 336l7 -7M421 329l7 7M421 336l7 -7M423 329l7 7M423 336l7 -7M434 328l7 7M434 335l7 -7M436 328l7 7M436 335l7 -7M438 327l7 7M438 334l7 -7M441 327l7 7M441 334l7 -7M443 327l7 7M443 334l7 -7M445 327l7 7M445 334l7 -7M449 326l7 7M449 333l7 -7M450 326l7 7M450 333l7 -7M452 326l7 7M452 333l7 -7M458 326l7 7M458 333l7 -7M472 325l7 7M472 332l7 -7M474 325l7 7M474 332l7 -7M482 325l7 7M482 332l7 -7M487 325l7 7M487 332l7 -7M489 325l7 7M489 332l7 -7M497 323l7 7M497 330l7 -7M510 323l7 7M510 330l7 -7M511 323l7 7M511 330l7 -7M513 322l7 7M513 329l7 -7M514 322l7 7M514 329l7 -7M518 322l7 7M518 329l7 -7M529 321l7 7M529 328l7 -7M544 321l7 7M544 328l7 -7M549 321l7 7M549 328l7 -7M551 320l7 7M551 327l7 -7M553 319l7 7M553 326l7 -7M555 319l7 7M555 326l7 -7M569 319l7 7M569 326l7 -7M569 319l7 7M569 326l7 -7M569 318l7 7M569 325l7 -7M570 318l7 7M570 325l7 -7M570 318l7 7M570 325l7 -7M570 317l7 7M570 324l7 -7M571 317l7 7M571 324l7 -7M571 317l7 7M571 324l7 -7M573 316l7 7M573 323l7 -7M574 316l7 7M574 323l7 -7M576 315l7 7M576 322l7 -7M577 315l7 7M577 322l7 -7M579 315l7 7M579 322l7 -7M581 314l7 7M581 321l7 -7M582 314l7 7M582 321l7 -7M584 313l7 7M584 320l7 -7M585 313l7 7M585 320l7 -7M587 313l7 7M587 320l7 -7M589 312l7 7M589 319l7 -7M590 312l7 7M590 319l7 -7M592 312l7 7M592 319l7 -7M593 311l7 7M593 318l7 -7M593 311l7 7M593 318l7 -7M594 310l7 7M594 317l7 -7M595 310l7 7M595 317l7 -7M596 310l7 7M596 317l7 -7M597 309l7 7M597 316l7 -7M598 309l7 7M598 316l7 -7M599 308l7 7M599 315l7 -7M599 308l7 7M599 315l7 -7M600 308l7 7M600 315l7 -7M601 307l7 7M601 314l7 -7M602 307l7 7M602 314l7 -7M603 306l7 7M603 313l7 -7M603 306l7 7M603 313l7 -7M603 306l7 7M603 313l7 -7M604 305l7 7M604 312l7 -7M604 305l7 7M604 312l7 -7M605 305l7 7M605 312l7 -7M605 304l7 7M605 311l7 -7M606 304l7 7M606 311l7 -7M606 303l7 7M606 310l7 -7M606 303l7 7M606 310l7 -7M607 303l7 7M607 310l7 -7M607 302l7 7M607 309l7 -7M608 302l7 7M608 309l7 -7M608 301l7 7M608 308l7 -7M609 301l7 7M609 308l7 -7M609 301l7 7M609 308l7 -7M610 300l7 7M610 307l7 -7M610 300l7 7M610 307l7 -7M611 300l7 7M611 307l7 -7M612 299l7 7M612 306l7 -7M612 299l7 7M612 306l7 -7M613 298l7 7M613 305l7 -7M613 298l7 7M613 305l7 -7M614 298l7 7M614 305l7 -7M615 297l7 7M615 304l7 -7M616 297l7 7M616 304l7 -7M617 296l7 7M617 303l7 -7M617 296l7 7M617 303l7 -7"/>
<polyline fill="none" stroke="#c000ff" stroke-width="1" points="59.5,424.5 59.5,423.5 63.5,420.5 68.5,414.5 73.5,407.5 75.5,403.5 82.5,399.5 87.5,395.5 94.5,388.5 105.5,388.5 107.5,387.5 120.5,386.5 130.5,385.5 138.5,383.5 147.5,382.5 162.5,381.5 163.5,380.5 193.5,380.5 195.5,379.5 203.5,378.5 217.5,378.5 219.5,377.5 229.5,377.5 231.5,375.5 249.5,375.5 251.5,374.5 273.5,374.5 285.5,363.5 299.5,358.5 310.5,357.5 320.5,357.5 345.5,355.5 355.5,354.5 358.5,352.5 368.5,350.5 372.5,349.5 380.5,347.5 390.5,346.5 400.5,345.5 412.5,343.5 422.5,342.5 433.5,341.5 447.5,340.5 460.5,339.5 492.5,339.5 494.5,338.5 514.5,338.5 516.5,337.5 524.5,337.5 526.5,336.5 552.5,336.5 557.5,335.5 577.5,335.5 579.5,332.5 590.5,329.5 600.5,327.5 605.5,324.5 610.5,321.5 616.5,317.5 621.5,314.5"/>
<rect x="58.5" y="39.5" width="563" height="386" fill="none" stroke="#000" stroke-width="1"/>
<path fill="none" stroke="#ff0000" d="M166 49.5H195"/>
<path fill="none" stroke="#ff0000" stroke-width="1" d="M177 49.5h7M180.5 46v7"/>
<path fill="none" stroke="#00c000" d="M166 62.5H195"/>
<path fill="none" stroke="#00c000" stroke-width="1" stroke-linecap="butt" d="M177 59l7 7M177 66l7 -7"/>
<path fill="none" stroke="#0080ff" d="M166 75.5H195"/>
<path fill="none" stroke="#0080ff" stroke-width="1" d="M177 75.5h7M180.5 72v7"/>
<path fill="none" stroke="#0080ff" stroke-width="1" stroke-linecap="butt" d="M177 72l7 7M177 79l7 -7"/>
<path fill="none" stroke="#c000ff" d="M166 88.5H195"/>
<g font-family="'Liberation Mono', monospace" font-size="12.14" fill="#000" stroke="#000" stroke-width="0.15" shape-rendering="auto" text-rendering="geometricPrecision">
<text x="338.7" y="24" text-anchor="middle" textLength="90.3" lengthAdjust="spacingAndGlyphs">Code of conduct</text>
<text x="51.6" y="430" text-anchor="end" textLength="5.6" lengthAdjust="spacingAndGlyphs" font-family="'Liberation Sans', sans-serif" font-size="11.6" stroke-width="0.15">0</text>
<text x="51.6" y="353" text-anchor="end" textLength="17.6" lengthAdjust="spacingAndGlyphs" font-family="'Liberation Sans', sans-serif" font-size="11.6" stroke-width="0.15">200</text>
<text x="51.6" y="276" text-anchor="end" textLength="17.6" lengthAdjust="spacingAndGlyphs" font-family="'Liberation Sans', sans-serif" font-size="11.6" stroke-width="0.15">400</text>
<text x="51.6" y="199" text-anchor="end" textLength="17.6" lengthAdjust="spacingAndGlyphs" font-family="'Liberation Sans', sans-serif" font-size="11.6" stroke-width="0.15">600</text>
<text x="51.6" y="122" text-anchor="end" textLength="17.6" lengthAdjust="spacingAndGlyphs" font-family="'Liberation Sans', sans-serif" font-size="11.6" stroke-width="0.15">800</text>
<text x="51.6" y="45" text-anchor="end" textLength="23.6" lengthAdjust="spacingAndGlyphs" font-family="'Liberation Sans', sans-serif" font-size="11.6" stroke-width="0.15">1000</text>
<text x="57.5" y="443" text-anchor="middle" textLength="11.6" lengthAdjust="spacingAndGlyphs" font-family="'Liberation Sans', sans-serif" font-size="11.6" stroke-width="0.15">14</text>
<text x="57.9" y="456" text-anchor="middle" textLength="18.3" lengthAdjust="spacingAndGlyphs">Apr</text>
<text x="137.9" y="443" text-anchor="middle" textLength="11.6" lengthAdjust="spacingAndGlyphs" font-family="'Liberation Sans', sans-serif" font-size="11.6" stroke-width="0.15">16</text>
<text x="138.3" y="456" text-anchor="middle" textLength="18.3" lengthAdjust="spacingAndGlyphs">Apr</text>
<text x="218.4" y="443" text-anchor="middle" textLength="11.6" lengthAdjust="spacingAndGlyphs" font-family="'Liberation Sans', sans-serif" font-size="11.6" stroke-width="0.15">18</text>
<text x="218.8" y="456" text-anchor="middle" textLength="18.3" lengthAdjust="spacingAndGlyphs">Apr</text>
<text x="298.8" y="443" text-anchor="middle" textLength="11.6" lengthAdjust="spacingAndGlyphs" font-family="'Liberation Sans', sans-serif" font-size="11.6" stroke-width="0.15">20</text>
<text x="299.2" y="456" text-anchor="middle" textLength="18.3" lengthAdjust="spacingAndGlyphs">Apr</text>
<text x="379.2" y="443" text-anchor="middle" textLength="11.6" lengthAdjust="spacingAndGlyphs" font-family="'Liberation Sans', sans-serif" font-size="11.6" stroke-width="0.15">22</text>
<text x="379.6" y="456" text-anchor="middle" textLength="18.3" lengthAdjust="spacingAndGlyphs">Apr</text>
<text x="459.6" y="443" text-anchor="middle" textLength="11.6" lengthAdjust="spacingAndGlyphs" font-family="'Liberation Sans', sans-serif" font-size="11.6" stroke-width="0.15">24</text>
<text x="460" y="456" text-anchor="middle" textLength="18.3" lengthAdjust="spacingAndGlyphs">Apr</text>
<text x="540.1" y="443" text-anchor="middle" textLength="11.6" lengthAdjust="spacingAndGlyphs" font-family="'Liberation Sans', sans-serif" font-size="11.6" stroke-width="0.15">26</text>
<text x="540.5" y="456" text-anchor="middle" textLength="18.3" lengthAdjust="spacingAndGlyphs">Apr</text>
<text x="620.5" y="443" text-anchor="middle" textLength="11.6" lengthAdjust="spacingAndGlyphs" font-family="'Liberation Sans', sans-serif" font-size="11.6" stroke-width="0.15">28</text>
<text x="620.9" y="456" text-anchor="middle" textLength="18.3" lengthAdjust="spacingAndGlyphs">Apr</text>
<text x="338.6" y="475" text-anchor="middle" textLength="90.3" lengthAdjust="spacingAndGlyphs">Date/Time (UTC)</text>
<text x="0" y="0" text-anchor="middle" textLength="42.3" lengthAdjust="spacingAndGlyphs" transform="translate(15 233.5) rotate(-90)">Ballots</text>
<text x="160" y="54" text-anchor="end" textLength="96.3" lengthAdjust="spacingAndGlyphs">Rejected Ballots</text>
<text x="160" y="67" text-anchor="end" textLength="78.3" lengthAdjust="spacingAndGlyphs">Vote Tallied,</text>
<text x="160" y="80" text-anchor="end" textLength="96.3" lengthAdjust="spacingAndGlyphs">Received Ballots</text>
<text x="160" y="93" text-anchor="end" textLength="96.3" lengthAdjust="spacingAndGlyphs">Acknowledgements</text>
</g>
</svg>
</body></html>
